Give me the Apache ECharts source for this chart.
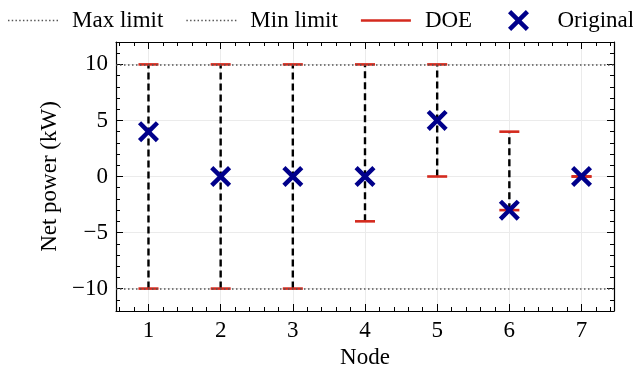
<!DOCTYPE html>
<html>
<head>
<meta charset="utf-8">
<script src="https://cdn.jsdelivr.net/npm/echarts@6/dist/echarts.min.js"></script>
<style>
html, body { margin: 0; padding: 0; background: #fff; }
#chart { width: 633px; height: 372px; }
</style>
</head>
<body>
<div id="chart"></div>
<script>
// data
var nodes = [1, 2, 3, 4, 5, 6, 7];
var original = [4, 0, 0, 0, 5, -3, 0];
var doeUpper = [10, 10, 10, 10, 10, 4, 0];
var doeLower = [-10, -10, -10, -4, 0, -3, 0];
var maxLimit = 10;
var minLimit = -10;
var yMajorTicks = [-10, -5, 0, 5, 10];

// minor tick positions (every 0.2 on x, every 1 on y)
var xMinorTicks = [];
for (var k = 3; k <= 37; k++) { if (k % 5 !== 0) xMinorTicks.push(k / 5); }
var yMinorTicks = [];
for (var j = -12; j <= 12; j++) { if (j % 5 !== 0) yMinorTicks.push(j); }

var FONT = 'Liberation Serif';
var FS = 23;
var RED = '#d42a1e';
var BLUE = '#00008b';
var DOT = { color: '#555', width: 1.5, type: [1.5, 2.5] };
var xPath = 'path://M1.5,0 L5,3.5 L8.5,0 L10,1.5 L6.5,5 L10,8.5 L8.5,10 L5,6.5 L1.5,10 L0,8.5 L3.5,5 L0,1.5 Z';

// dotted line icon for the legend
var dotPath = 'path://';
for (var d = 0; d < 14; d++) { dotPath += 'M' + (d * 3.6) + ',0h1.4v1.4h-1.4z'; }

function minus(v) { return v < 0 ? '\u2212' + (-v) : '' + v; }

function xAx(pos, ticks, len, main) {
    return {
        type: 'value', min: 0.55, max: 7.45, position: pos,
        axisLine: { show: main, onZero: false, lineStyle: { color: '#000', width: 1.2 } },
        axisTick: { show: true, inside: true, length: len, customValues: ticks, lineStyle: { color: '#000', width: 1 } },
        axisLabel: { show: main && pos === 'bottom', customValues: ticks, margin: 8, fontFamily: FONT, fontSize: FS, color: '#000' },
        splitLine: { show: main && pos === 'bottom', lineStyle: { color: '#ebebeb', width: 1 } },
        name: main && pos === 'bottom' ? 'Node' : '',
        nameLocation: 'middle', nameGap: 28,
        nameTextStyle: { fontFamily: FONT, fontSize: FS, color: '#000' }
    };
}
function yAx(pos, ticks, len, main) {
    return {
        type: 'value', min: -12, max: 12, position: pos,
        axisLine: { show: main, onZero: false, lineStyle: { color: '#000', width: 1.2 } },
        axisTick: { show: true, inside: true, length: len, customValues: ticks, lineStyle: { color: '#000', width: 1 } },
        axisLabel: { show: main && pos === 'left', customValues: ticks, margin: 8, formatter: minus, fontFamily: FONT, fontSize: FS, color: '#000' },
        splitLine: { show: main && pos === 'left', lineStyle: { color: '#ebebeb', width: 1 } },
        name: main && pos === 'left' ? 'Net power (kW)' : '',
        nameLocation: 'middle', nameGap: 53,
        nameTextStyle: { fontFamily: FONT, fontSize: FS, color: '#000' }
    };
}

function legendAt(left, items) {
    return {
        left: left, top: 9, padding: 0,
        itemWidth: 50, itemHeight: 21, itemGap: 23,
        textStyle: { fontFamily: FONT, fontSize: FS, color: '#000', padding: [0, 0, 0, 9] },
        data: items
    };
}

var chart = echarts.init(document.getElementById('chart'));

var option = {
    animation: false,
    grid: { left: 116, right: 19, top: 42, bottom: 61, containLabel: false, outerBoundsMode: 'none' },
    legend: [
        legendAt(8, [
            { name: 'Max limit', icon: dotPath, itemStyle: { color: '#555' } },
            { name: 'Min limit', icon: dotPath, itemStyle: { color: '#555' } },
            { name: 'DOE', icon: 'path://M0,0 H50 V2.6 H0 Z', itemStyle: { color: RED } }
        ]),
        legendAt(508, [
            { name: 'Original', icon: xPath, itemStyle: { color: BLUE } }
        ])
    ],
    xAxis: [
        xAx('bottom', nodes, 7, true),
        xAx('bottom', xMinorTicks, 4, false),
        xAx('top', nodes, 7, true),
        xAx('top', xMinorTicks, 4, false)
    ],
    yAxis: [
        yAx('left', yMajorTicks, 7, true),
        yAx('left', yMinorTicks, 4, false),
        yAx('right', yMajorTicks, 7, true),
        yAx('right', yMinorTicks, 4, false)
    ],
    series: [
        {
            name: 'Max limit', type: 'line', data: [], symbol: 'none',
            itemStyle: { color: '#555' }, lineStyle: DOT,
            markLine: { silent: true, symbol: 'none', label: { show: false }, lineStyle: DOT, data: [{ yAxis: maxLimit }] }
        },
        {
            name: 'Min limit', type: 'line', data: [], symbol: 'none',
            itemStyle: { color: '#555' }, lineStyle: DOT,
            markLine: { silent: true, symbol: 'none', label: { show: false }, lineStyle: DOT, data: [{ yAxis: minLimit }] }
        },
        {
            name: 'DOE', type: 'custom', z: 3,
            itemStyle: { color: RED },
            data: nodes.map(function (n, i) { return [n, doeLower[i], doeUpper[i]]; }),
            renderItem: function (params, api) {
                var x = api.value(0);
                var lo = api.coord([x, api.value(1)]);
                var hi = api.coord([x, api.value(2)]);
                var w = 10;
                var kids = [];
                if (Math.abs(lo[1] - hi[1]) > 1) {
                    kids.push({ type: 'line', shape: { x1: lo[0], y1: lo[1], x2: hi[0], y2: hi[1] },
                        style: { stroke: '#000', lineWidth: 2.4, lineDash: [7, 4] } });
                }
                [lo, hi].forEach(function (p) {
                    kids.push({ type: 'line', shape: { x1: p[0] - w, y1: p[1], x2: p[0] + w, y2: p[1] },
                        style: { stroke: RED, lineWidth: 2.6 } });
                });
                return { type: 'group', children: kids };
            }
        },
        {
            name: 'Original', type: 'scatter', z: 5,
            symbol: xPath, symbolSize: 21,
            itemStyle: { color: BLUE, opacity: 1 },
            data: nodes.map(function (n, i) { return [n, original[i]]; })
        }
    ]
};
chart.setOption(option);
</script>
</body>
</html>
